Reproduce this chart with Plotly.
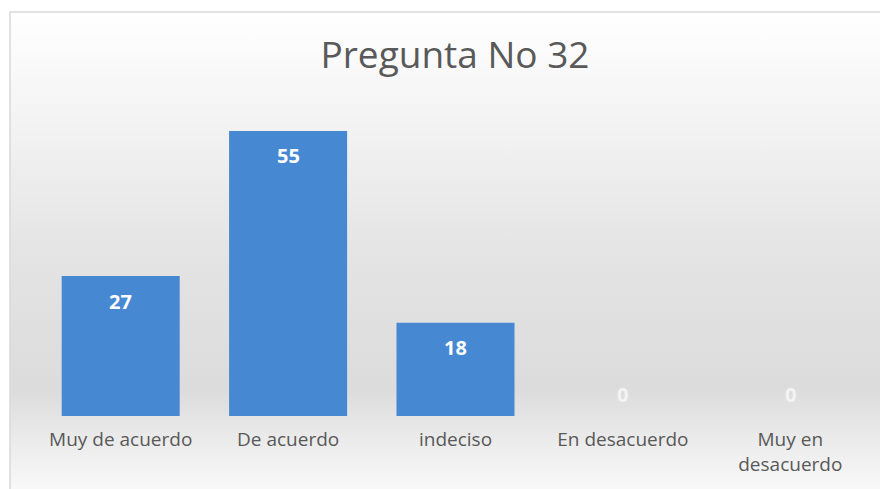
import base64
import plotly.graph_objects as go

categories = ["Muy de acuerdo", "De acuerdo", "indeciso", "En desacuerdo", "Muy en<br>desacuerdo"]
values = [27, 55, 18, 0, 0]
title_text = "Pregunta No 32"

# chart-area background gradient (Excel style), as an SVG image
svg = """<svg xmlns='http://www.w3.org/2000/svg' width='100' height='100' preserveAspectRatio='none'>
<defs><linearGradient id='g' x1='0' y1='0' x2='0' y2='1'>
<stop offset='0' stop-color='#ffffff'/>
<stop offset='0.2' stop-color='#f4f4f4'/>
<stop offset='0.5' stop-color='#e3e3e3'/>
<stop offset='0.75' stop-color='#dcdcdc'/>
<stop offset='0.88' stop-color='#efefef'/>
<stop offset='1' stop-color='#ffffff'/>
</linearGradient></defs>
<rect width='100' height='100' fill='url(#g)'/></svg>"""
src = "data:image/svg+xml;base64," + base64.b64encode(svg.encode()).decode()

# page is offset by the default 8px body margin
OFF = 8
W, H = 888 - OFF, 489 - OFF
ml, mr, mt, mb = 37 - OFF, 14, 105 - OFF, 68
pw, ph = W - ml - mr, H - mt - mb

def px(x):
    return (x - OFF - ml) / pw

def py(y):
    return (H - mb - (y - OFF)) / ph

fig = go.Figure()
fig.add_trace(go.Bar(
    x=categories, y=values,
    marker=dict(color="#4689d2", line=dict(width=0)),
    width=0.705,
    hoverinfo="skip",
))

annotations = []
for c, v in zip(categories, values):
    annotations.append(dict(
        x=c, y=v, xref="x", yref="y", text=f"<b>{v}</b>", showarrow=False,
        yshift=-25 if v > 0 else 22,
        font=dict(family="Open Sans", size=20, color="#ffffff" if v > 0 else "#f4f4f4"),
    ))

fig.update_layout(
    width=W, height=H,
    margin=dict(l=ml, r=mr, t=mt, b=mb),
    paper_bgcolor="white",
    plot_bgcolor="rgba(0,0,0,0)",
    showlegend=False,
    title=dict(text=title_text, x=(455 - OFF) / W, xanchor="center", y=1 - (55 - OFF) / H, yanchor="middle",
               font=dict(family="Open Sans", size=37, color="#595959")),
    xaxis=dict(showgrid=False, showline=False, zeroline=False, ticks="",
               tickfont=dict(family="Open Sans", size=19, color="#595959"), ticklabelstandoff=10),
    yaxis=dict(range=[0, 60], visible=False),
    images=[dict(source=src, xref="paper", yref="paper", x=px(10), y=py(11),
                 sizex=px(W + 40) - px(10), sizey=py(11) - py(H + 40),
                 xanchor="left", yanchor="top", sizing="stretch", layer="below")],
    shapes=[dict(type="rect", xref="paper", yref="paper", x0=px(10), y0=py(H + 40),
                 x1=px(W + 40), y1=py(10.5), line=dict(color="#d9d9d9", width=1.5), layer="below")],
    annotations=annotations,
    bargap=0.295,
)

fig.write_html("out.html")
